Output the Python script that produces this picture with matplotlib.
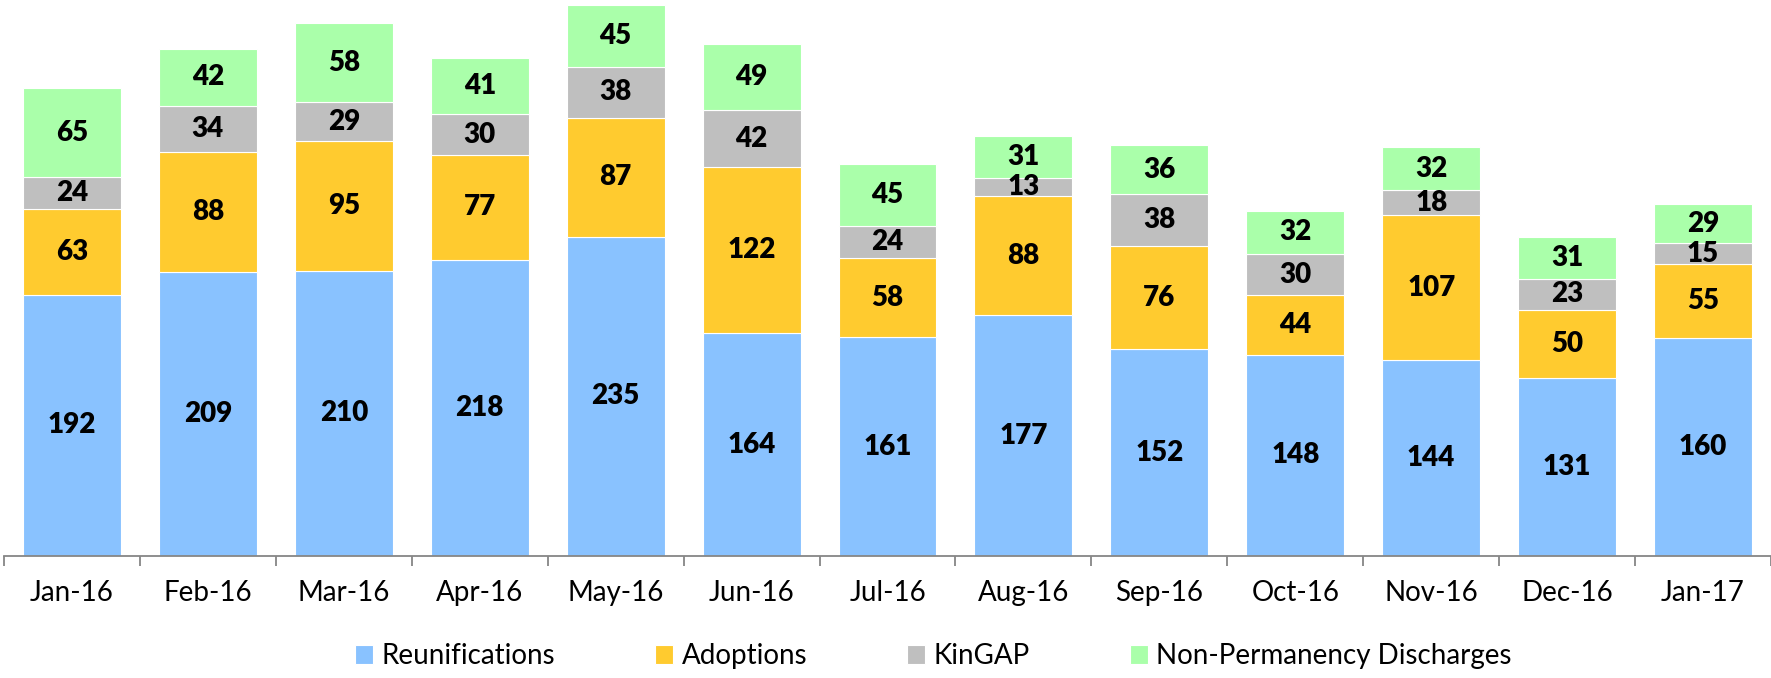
import matplotlib
matplotlib.use("Agg")
import matplotlib.pyplot as plt
import numpy as np

months = ["Jan-16", "Feb-16", "Mar-16", "Apr-16", "May-16", "Jun-16", "Jul-16",
          "Aug-16", "Sep-16", "Oct-16", "Nov-16", "Dec-16", "Jan-17"]
reunifications = [192, 209, 210, 218, 235, 164, 161, 177, 152, 148, 144, 131, 160]
adoptions = [63, 88, 95, 77, 87, 122, 58, 88, 76, 44, 107, 50, 55]
kingap = [24, 34, 29, 30, 38, 42, 24, 13, 38, 30, 18, 23, 15]
nonperm = [65, 42, 58, 41, 45, 49, 45, 31, 36, 32, 32, 31, 29]

series = [("Reunifications", reunifications, "#89C2FF"),
          ("Adoptions", adoptions, "#FFCB2F"),
          ("KinGAP", kingap, "#BFBFBF"),
          ("Non-Permanency Discharges", nonperm, "#AAFFAA")]

plt.rcParams['font.family'] = ['Lato', 'DejaVu Sans']

fig = plt.figure(figsize=(17.71, 6.78), dpi=100)
ax = fig.add_axes([4/1771, 122/678, 1 - 4/1771, 1 - 122/678])

x = np.arange(len(months))
bottom = np.zeros(len(months))
handles = []
for name, vals, color in series:
    vals = np.array(vals, dtype=float)
    bars = ax.bar(x, vals, width=0.72, bottom=bottom, color=color,
                  edgecolor="white", linewidth=0.8, label=name)
    handles.append(bars)
    for xi, b, v in zip(x, bottom, vals):
        ax.text(xi, b + v / 2, f"{int(v)}", ha="center", va="center",
                fontsize=20, fontweight="heavy", color="black")
    bottom += vals

ax.set_xlim(-0.5, len(months) - 0.5)
ax.set_ylim(0, 409)
for s in ["top", "right", "left"]:
    ax.spines[s].set_visible(False)
ax.spines["bottom"].set_color("#868686")
ax.spines["bottom"].set_linewidth(1.3)
ax.set_yticks([])

ax.set_xticks(np.arange(len(months) + 1) - 0.5)
ax.set_xticklabels([])
ax.tick_params(axis="x", which="major", length=7, width=1.3, color="#868686", direction="out")
ax.set_xticks(x, minor=True)
ax.set_xticklabels(months, minor=True, fontsize=20)
ax.tick_params(axis="x", which="minor", length=0, pad=17)

fig.legend(handles=handles, loc="center", bbox_to_anchor=(0.527, 0.032), ncol=4,
           frameon=False, fontsize=20, handlelength=0.65, handleheight=0.65,
           handletextpad=0.3, columnspacing=3.6)

fig.savefig("out.png", dpi=100)
